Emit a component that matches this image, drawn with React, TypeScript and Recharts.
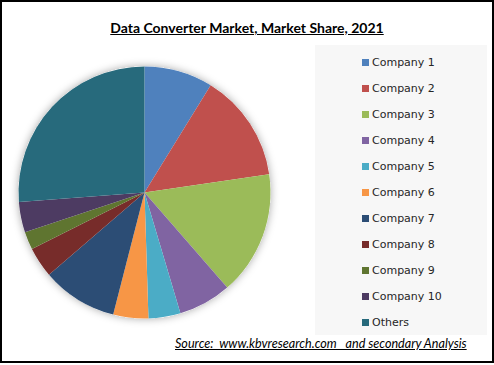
import React from "react";
import { PieChart, Pie, Cell, Legend } from "recharts";

const companies = ["Company 1", "Company 2", "Company 3", "Company 4", "Company 5", "Company 6", "Company 7", "Company 8", "Company 9", "Company 10", "Others"];
const shares = [8.8, 13.9, 15.9, 6.8, 4.1, 4.5, 9.7, 3.9, 2.3, 3.9, 26.2];
const colors = ["#4F81BD", "#C0504D", "#9BBB59", "#8064A2", "#4BACC6", "#F79646", "#2C4D75", "#772C2A", "#5F7530", "#4D3B62", "#276A7C"];
const titleText = "Data Converter Market, Market Share, 2021";
const sourceText = "Source:  www.kbvresearch.com   and secondary Analysis";

const data = companies.map((name, i) => ({ name, value: shares[i] }));
const total = [{ name: "total", value: shares.reduce((a, b) => a + b, 0) }];

const LegendContent = () => {
  return (
    <div style={{ width: 172, height: 290, background: "#f7f7f7", boxSizing: "border-box", paddingTop: 4 }}>
      {companies.map((name, i) => (
        <div key={name} style={{ height: 26, display: "flex", alignItems: "center", paddingLeft: 47, fontFamily: "DejaVu Sans", fontSize: 11, color: "#262626" }}>
          <span style={{ display: "inline-block", width: 7, height: 7, background: colors[i], marginRight: 3 }} />
          <span>{name}</span>
        </div>
      ))}
    </div>
  );
};

export default function App() {
  return (
    <div style={{ position: "fixed", left: 0, top: 0, width: 494, height: 365, background: "#fff", overflow: "hidden" }}>
      <div style={{ position: "absolute", left: 0, top: 0, width: 494, height: 363, border: "2px solid #000", boxSizing: "border-box" }} />
      <div style={{ position: "absolute", left: 0, top: 19, width: 494, textAlign: "center", fontFamily: "Lato", fontWeight: 700, fontSize: 14, textDecoration: "underline", color: "#000", paddingRight: 2 }}>
        {titleText}
      </div>
      <div style={{ position: "absolute", left: 0, top: 0 }}>
        <PieChart width={494} height={360} margin={{ top: 0, right: 0, bottom: 0, left: 0 }}>
          <defs>
            <filter id="pieShadow" x="-20%" y="-20%" width="140%" height="140%">
              <feDropShadow dx="0" dy="0" stdDeviation="4" floodColor="#000" floodOpacity="0.35" />
            </filter>
          </defs>
          <Pie data={total} dataKey="value" cx={144.5} cy={192.5} outerRadius={126} startAngle={90} endAngle={-270} stroke="none" isAnimationActive={false} legendType="none">
            <Cell fill="#fff" filter="url(#pieShadow)" />
          </Pie>
          <Pie data={data} dataKey="value" nameKey="name" cx={144.5} cy={192.5} outerRadius={126} startAngle={90} endAngle={-270} stroke="none" isAnimationActive={false}>
            {data.map((d, i) => (
              <Cell key={d.name} fill={colors[i]} />
            ))}
          </Pie>
          <Legend
            layout="vertical"
            align="right"
            verticalAlign="top"
            content={<LegendContent />}
            wrapperStyle={{ position: "absolute", left: 315, top: 45, width: 172, height: 290 }}
          />
        </PieChart>
      </div>
      <div style={{ position: "absolute", left: 175, top: 336, fontFamily: "Lato", fontStyle: "italic", fontSize: 12.6, textDecoration: "underline", whiteSpace: "pre", color: "#000" }}>
        {sourceText}
      </div>
    </div>
  );
}
